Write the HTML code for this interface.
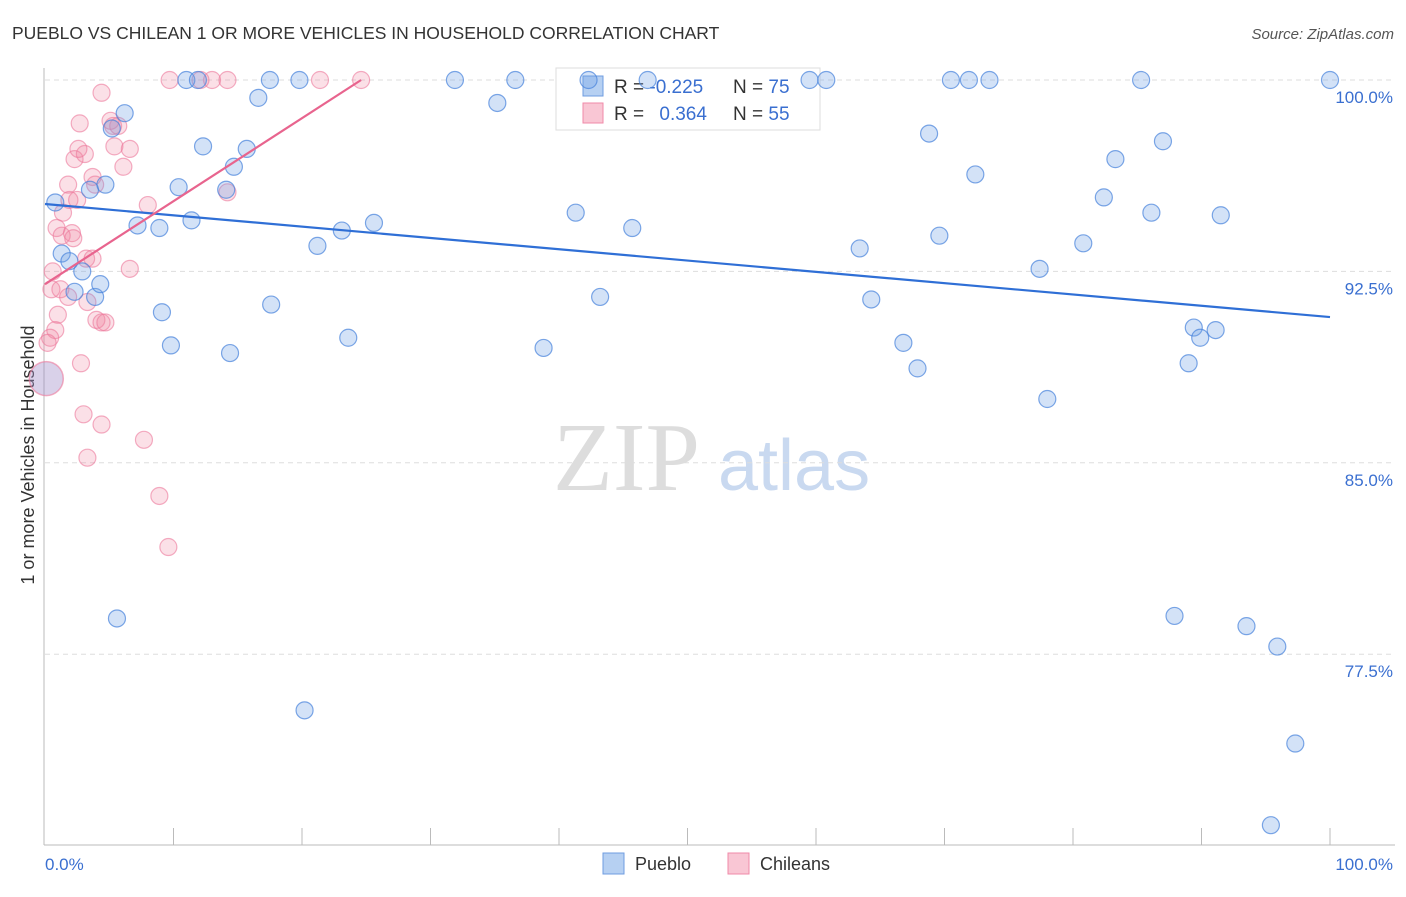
<!DOCTYPE html>
<html><head><meta charset="utf-8"><style>
body{margin:0;background:#fff;font-family:"Liberation Sans",sans-serif;}
</style></head><body>
<svg width="1406" height="892" xmlns="http://www.w3.org/2000/svg">
<text x="12" y="39" font-size="17.5" fill="#333">PUEBLO VS CHILEAN 1 OR MORE VEHICLES IN HOUSEHOLD CORRELATION CHART</text>
<text x="1394" y="39" font-size="15" fill="#555" font-style="italic" text-anchor="end">Source: ZipAtlas.com</text>
<text x="34" y="455" font-size="18" fill="#333" text-anchor="middle" transform="rotate(-90 34 455)">1 or more Vehicles in Household</text>
<g>
<text x="553" y="490" font-size="98" font-family="Liberation Serif,serif" fill="#ddd">ZIP</text>
<text x="718" y="490" font-size="72" fill="#c9d9f0">atlas</text>
</g>
<g id="grid"></g>
<g>
<rect x="556" y="68" width="264" height="62" fill="#fff" stroke="#ddd"/>
<rect x="583" y="76" width="20" height="20" fill="#b6d0f2" stroke="#6f9ce0"/>
<rect x="583" y="103" width="20" height="20" fill="#f9c6d4" stroke="#f08aa8"/>
<text x="614" y="93" font-size="19" fill="#333">R = <tspan fill="#3a6fd0">-0.225</tspan></text>
<text x="733" y="93" font-size="19" fill="#333">N = <tspan fill="#3a6fd0">75</tspan></text>
<text x="614" y="120" font-size="19" fill="#333">R = <tspan fill="#3a6fd0" dx="10">0.364</tspan></text>
<text x="733" y="120" font-size="19" fill="#333">N = <tspan fill="#3a6fd0">55</tspan></text>
</g>
<g id="axes"></g>
<g id="marks"></g>
<g>
<rect x="603" y="853" width="21" height="21" fill="#b6d0f2" stroke="#6f9ce0"/>
<text x="635" y="870" font-size="18" fill="#333">Pueblo</text>
<rect x="728" y="853" width="21" height="21" fill="#f9c6d4" stroke="#f08aa8"/>
<text x="760" y="870" font-size="18" fill="#333">Chileans</text>
</g>
</svg>
<script>
const yTicks=[100,92.5,85,77.5];
const yTickLabels=["100.0%","92.5%","85.0%","77.5%"];
const xTickCount=10;
const blueX=[0.8,1.3,1.9,2.3,2.9,3.9,4.3,3.5,4.7,5.2,6.2,5.6,7.2,8.9,9.1,9.8,10.4,11.0,11.9,11.4,12.3,14.1,14.4,14.7,15.7,16.6,17.5,17.6,19.8,20.2,21.2,23.1,23.6,25.6,31.9,35.2,36.6,38.8,41.3,42.3,43.2,45.7,46.9,59.5,60.8,63.4,64.3,66.8,67.9,68.8,69.6,70.5,71.9,72.4,73.5,77.4,78.0,80.8,82.4,83.3,85.3,86.1,87.0,87.9,89.0,89.4,89.9,91.1,91.5,93.5,95.4,95.9,97.3,100];
const blueY=[95.2,93.2,92.9,91.7,92.5,91.5,92.0,95.7,95.9,98.1,98.7,78.9,94.3,94.2,90.9,89.6,95.8,100,100,94.5,97.4,95.7,89.3,96.6,97.3,99.3,100,91.2,100,75.3,93.5,94.1,89.9,94.4,100,99.1,100,89.5,94.8,100,91.5,94.2,100,100,100,93.4,91.4,89.7,88.7,97.9,93.9,100,100,96.3,100,92.6,87.5,93.6,95.4,96.9,100,94.8,97.6,79.0,88.9,90.3,89.9,90.2,94.7,78.6,70.8,77.8,74.0,100];
const pinkX=[9.7,12.1,13.0,14.2,21.4,24.6,4.4,2.7,5.3,5.7,5.1,5.4,6.6,2.3,3.1,2.6,6.1,1.8,3.7,3.9,14.2,8.0,1.4,1.9,2.5,0.9,1.3,2.1,2.2,3.2,3.7,0.6,0.5,1.2,1.8,3.3,6.6,1.0,0.8,0.4,0.2,4.0,4.4,4.7,2.8,3.0,4.4,3.3,7.7,8.9,9.6];
const pinkY=[100,100,100,100,100,100,99.5,98.3,98.2,98.2,98.4,97.4,97.3,96.9,97.1,97.3,96.6,95.9,96.2,95.9,95.6,95.1,94.8,95.3,95.3,94.2,93.9,94.0,93.8,93.0,93.0,92.5,91.8,91.8,91.5,91.3,92.6,90.8,90.2,89.9,89.7,90.6,90.5,90.5,88.9,86.9,86.5,85.2,85.9,83.7,81.7];
const bigPoint=[0.1,88.3];
const blueTrend=[[0,95.14],[100,90.71]];
const pinkTrend=[[0,92.0],[24.6,100]];
const xs=v=>45+v*12.85, ys=v=>80+(100-v)*25.52;
const NS="http://www.w3.org/2000/svg";
function mk(t,a,p){const e=document.createElementNS(NS,t);for(const k in a)e.setAttribute(k,a[k]);p.appendChild(e);return e;}
const grid=document.getElementById('grid'),axes=document.getElementById('axes'),marks=document.getElementById('marks');
yTicks.forEach((v,i)=>{
 const l=mk('line',{x1:45,x2:1395,y1:ys(v),y2:ys(v),stroke:'#ddd','stroke-dasharray':'5,4'},grid);
 
 
 const t=mk('text',{x:1393,y:ys(v)+23,'font-size':17,fill:'#3a6fd0','text-anchor':'end'},grid);
 t.textContent=yTickLabels[i];
 
 
});
const ya=mk('line',{x1:44,x2:44,y1:68,y2:845,stroke:'#bbb'},axes);


const xa=mk('line',{x1:44,x2:1395,y1:845,y2:845,stroke:'#bbb'},axes);


for(let k=1;k<=xTickCount;k++){
 const t=mk('line',{x1:xs(k*10),x2:xs(k*10),y1:828,y2:845,stroke:'#bbb'},axes);
 
 
}
const x0=mk('text',{x:45,y:870,'font-size':17,fill:'#3a6fd0'},axes);x0.textContent='0.0%';


const x1=mk('text',{x:1393,y:870,'font-size':17,fill:'#3a6fd0','text-anchor':'end'},axes);x1.textContent='100.0%';


pinkX.forEach((x,i)=>{
 const c=mk('circle',{cx:xs(x),cy:ys(pinkY[i]),r:8.5,fill:'rgba(240,130,160,0.25)',stroke:'rgba(236,120,155,0.6)','stroke-width':1.2},marks);
 
 
});
blueX.forEach((x,i)=>{
 const c=mk('circle',{cx:xs(x),cy:ys(blueY[i]),r:8.5,fill:'rgba(110,160,230,0.3)',stroke:'rgba(70,130,220,0.7)','stroke-width':1.2},marks);
 
 
});
const bp=mk('circle',{cx:xs(bigPoint[0]),cy:ys(bigPoint[1]),r:17,fill:'rgba(160,140,200,0.4)',stroke:'rgba(236,120,155,0.6)','stroke-width':1.5},marks);


const bt=mk('line',{x1:xs(blueTrend[0][0]),y1:ys(blueTrend[0][1]),x2:xs(blueTrend[1][0]),y2:ys(blueTrend[1][1]),stroke:'#2f6fd6','stroke-width':2.2},marks);


const pt=mk('line',{x1:xs(pinkTrend[0][0]),y1:ys(pinkTrend[0][1]),x2:xs(pinkTrend[1][0]),y2:ys(pinkTrend[1][1]),stroke:'#e8648e','stroke-width':2.2},marks);


</script>
</body></html>
